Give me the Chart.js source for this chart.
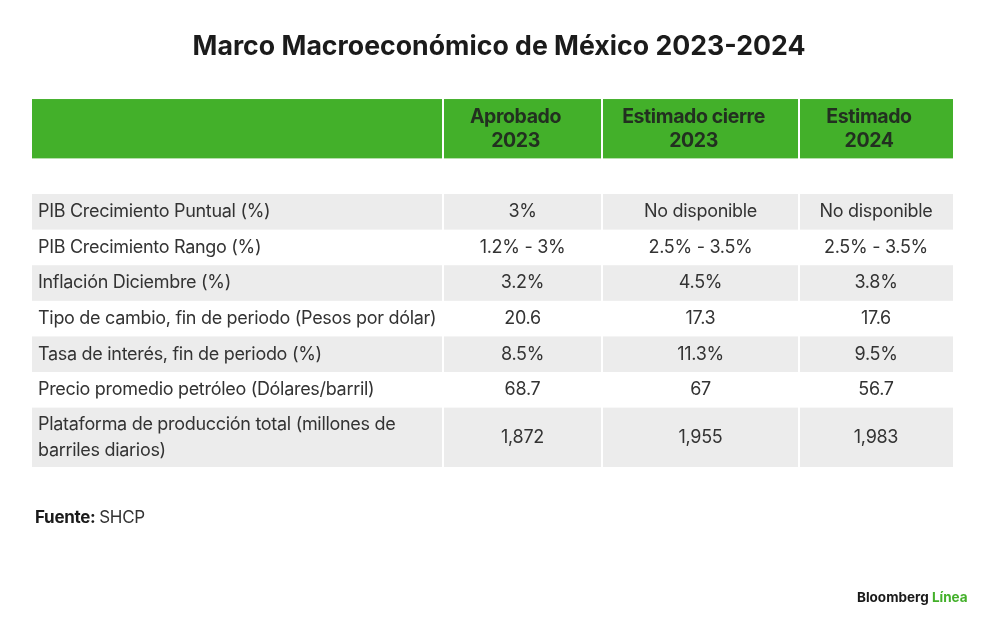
<!DOCTYPE html>
<html lang="es">
<head>
<meta charset="utf-8">
<title>Marco Macroeconómico de México 2023-2024</title>
<script src="https://cdn.jsdelivr.net/npm/chart.js@4.4.1/dist/chart.umd.min.js"></script>
<style>
  html, body { margin: 0; padding: 0; background: #fff; }
  canvas { display: block; }
</style>
</head>
<body>
<canvas id="tabla" width="1000" height="631"></canvas>
<script>
// datos del cuadro
const titulo = 'Marco Macroeconómico de México 2023-2024';
const encabezados = [['Aprobado', '2023'], ['Estimado cierre', '2023'], ['Estimado', '2024']];
const indicadores = [
  ['PIB Crecimiento Puntual (%)'],
  ['PIB Crecimiento Rango (%)'],
  ['Inflación Diciembre (%)'],
  ['Tipo de cambio, fin de periodo (Pesos por dólar)'],
  ['Tasa de interés, fin de periodo (%)'],
  ['Precio promedio petróleo (Dólares/barril)'],
  ['Plataforma de producción total (millones de', 'barriles diarios)']
];
const aprobado2023 = ['3%', '1.2% - 3%', '3.2%', '20.6', '8.5%', '68.7', '1,872'];
const cierre2023   = ['No disponible', '2.5% - 3.5%', '4.5%', '17.3', '11.3%', '67', '1,955'];
const estimado2024 = ['No disponible', '2.5% - 3.5%', '3.8%', '17.6', '9.5%', '56.7', '1,983'];
const fuente = 'SHCP';

// medidas del cuadro (unidades de la escala)
const anchosColumna = [411, 159, 197, 154];
const margenDerecho = 13;
const desplazamientoEncabezado = -7;
const altoEncabezado = 5;
const altoSeparacion = 3;
const altoFila = 3;
const altoFilaDoble = 5;

const VERDE = '#43b02a';
const GRIS = '#ececec';
const FUENTE = 'Inter, "Noto Sans", sans-serif';

// bordes de columnas y filas
const bordesX = [0];
anchosColumna.forEach(w => bordesX.push(bordesX[bordesX.length - 1] + w));
const filas = [];
let yAct = altoEncabezado + altoSeparacion;
indicadores.forEach(lineas => {
  const alto = lineas.length > 1 ? altoFilaDoble : altoFila;
  filas.push([yAct, yAct + alto]);
  yAct += alto;
});
const totalY = yAct;
const columnasValores = [aprobado2023, cierre2023, estimado2024];

const tablaPlugin = {
  id: 'tabla',
  afterDraw(chart) {
    const ctx = chart.ctx;
    const x = chart.scales.x;
    const y = chart.scales.y;
    const px = v => x.getPixelForValue(v);
    const py = v => y.getPixelForValue(v);

    // celda con separadores blancos de 2px
    const celda = (c, y0, y1, color) => {
      const l = px(bordesX[c]) + (c > 0 ? 1 : 0);
      const r = px(bordesX[c + 1]) - (c < anchosColumna.length - 1 ? 1 : 0);
      const t = py(y0);
      const b = py(y1);
      ctx.fillStyle = color;
      ctx.fillRect(l, t, r - l, b - t);
    };

    ctx.save();
    // encabezado
    for (let c = 0; c < anchosColumna.length; c++) celda(c, 0, altoEncabezado, VERDE);
    ctx.fillStyle = '#223020';
    ctx.font = '700 19.5px ' + FUENTE;
    ctx.letterSpacing = '-0.4px';
    ctx.textAlign = 'center';
    ctx.textBaseline = 'middle';
    encabezados.forEach((lineas, i) => {
      const cx = (px(bordesX[i + 1]) + px(bordesX[i + 2])) / 2 + desplazamientoEncabezado;
      const cy = py(altoEncabezado / 2);
      lineas.forEach((t, k) => ctx.fillText(t, cx, cy + (k - (lineas.length - 1) / 2) * 24));
    });

    // filas
    ctx.letterSpacing = '-0.3px';
    filas.forEach(([y0, y1], i) => {
      if (i % 2 === 0) {
        for (let c = 0; c < anchosColumna.length; c++) celda(c, y0, y1, GRIS);
      }
      const cy = (py(y0) + py(y1)) / 2;
      ctx.fillStyle = '#333333';
      ctx.font = '400 18px ' + FUENTE;
      ctx.textAlign = 'left';
      const lineas = indicadores[i];
      lineas.forEach((t, k) => ctx.fillText(t, px(0) + 6, cy + (k - (lineas.length - 1) / 2) * 26));
      ctx.textAlign = 'center';
      columnasValores.forEach((col, c) => {
        const cx = (px(bordesX[c + 1]) + px(bordesX[c + 2])) / 2;
        ctx.fillText(col[i], cx, cy);
      });
    });

    // fuente
    ctx.textAlign = 'left';
    ctx.fillStyle = '#1a1a1a';
    ctx.font = '700 17px ' + FUENTE;
    const fy = py(totalY + 4.3);
    ctx.fillText('Fuente:', px(0) + 3, fy);
    const w = ctx.measureText('Fuente: ').width;
    ctx.font = '400 17px ' + FUENTE;
    ctx.fillStyle = '#333333';
    ctx.fillText(fuente, px(0) + 3 + w, fy);

    // marca
    const my = py(totalY + 11);
    ctx.letterSpacing = '0px';
    ctx.font = '700 13.5px ' + FUENTE;
    ctx.fillStyle = '#1a1a1a';
    ctx.fillText('Bloomberg', 857, my);
    const wb = ctx.measureText('Bloomberg ').width;
    ctx.fillStyle = VERDE;
    ctx.fillText('Línea', 857 + wb, my);
    ctx.restore();
  }
};

new Chart(document.getElementById('tabla'), {
  type: 'scatter',
  data: { datasets: [] },
  options: {
    responsive: false,
    animation: false,
    layout: { padding: { left: 32, right: 34, top: 0, bottom: 164 } },
    plugins: {
      legend: { display: false },
      tooltip: { enabled: false },
      title: {
        display: true,
        text: titulo,
        color: '#1b1b1b',
        font: { family: FUENTE, size: 26.7, weight: '700' },
        padding: { top: 31, bottom: 36 }
      }
    },
    scales: {
      x: { type: 'linear', display: false, offset: false, min: 0, max: bordesX[bordesX.length - 1] + margenDerecho },
      y: { type: 'linear', display: false, offset: false, reverse: true, min: 0, max: totalY }
    }
  },
  plugins: [tablaPlugin]
});
</script>
</body>
</html>
